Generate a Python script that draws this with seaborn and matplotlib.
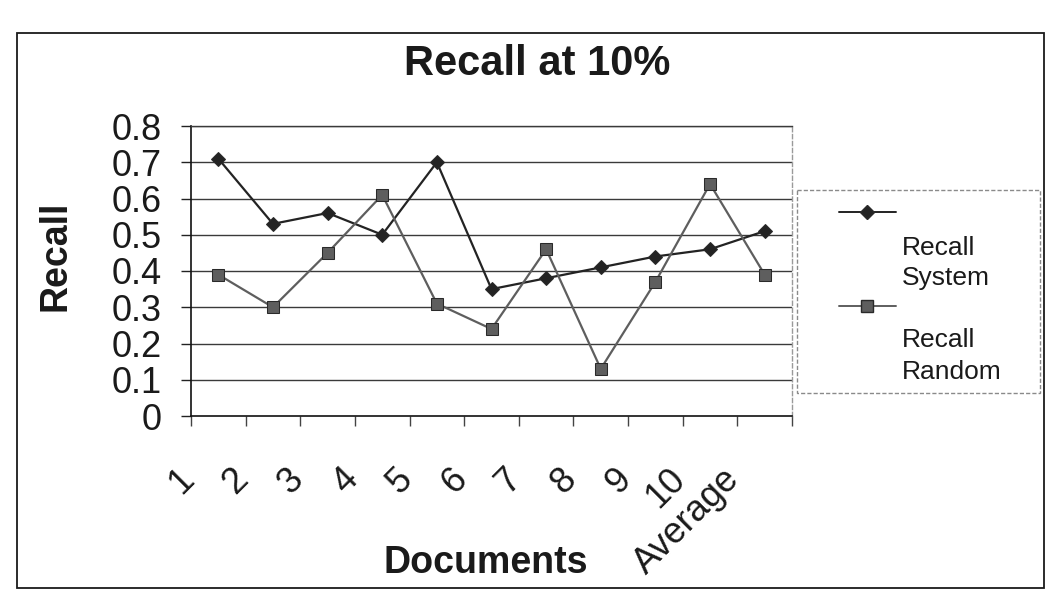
import numpy as np
import pandas as pd
import matplotlib
matplotlib.use("Agg")
import matplotlib.pyplot as plt
from matplotlib.patches import Rectangle
from matplotlib.lines import Line2D
from matplotlib.transforms import ScaledTranslation
import seaborn as sns

# Recall at the 10% cut-off, per document plus the overall average
documents = ["1", "2", "3", "4", "5", "6", "7", "8", "9", "10", "Average"]
recall_system = [0.71, 0.53, 0.56, 0.50, 0.70, 0.35, 0.38, 0.41, 0.44, 0.46, 0.51]
recall_random = [0.39, 0.30, 0.45, 0.61, 0.31, 0.24, 0.46, 0.13, 0.37, 0.64, 0.39]
series_names = ["Recall System", "Recall Random"]
y_ticks = [0, 0.1, 0.2, 0.3, 0.4, 0.5, 0.6, 0.7, 0.8]
y_tick_labels = ["0", "0.1", "0.2", "0.3", "0.4", "0.5", "0.6", "0.7", "0.8"]

pos = np.arange(len(documents))
df = pd.concat([
    pd.DataFrame({"pos": pos, "recall": recall_system, "series": series_names[0]}),
    pd.DataFrame({"pos": pos, "recall": recall_random, "series": series_names[1]}),
], ignore_index=True)

sns.set_theme(style="white")
plt.rcParams["font.family"] = ["Liberation Sans", "DejaVu Sans"]

W, H = 1050, 607
fig = plt.figure(figsize=(W / 100, H / 100), dpi=100)
fig.patch.set_facecolor("white")

# plot area in pixel terms
L, R, T, B = 191, 792, 126, 416
ax = fig.add_axes([L / W, 1 - B / H, (R - L) / W, (B - T) / H])

colors = {series_names[0]: "#232323", series_names[1]: "#5e5e5e"}
markers = {series_names[0]: "D", series_names[1]: "s"}
sizes = {series_names[0]: 7.2, series_names[1]: 9}

for name in series_names:
    sub = df[df["series"] == name]
    sns.lineplot(data=sub, x="pos", y="recall", ax=ax, color=colors[name],
                 marker=markers[name], markersize=sizes[name],
                 markeredgecolor="#2a2a2a", markerfacecolor=colors[name],
                 linewidth=1.6, sort=False, legend=False, zorder=3)

ax.set_xlim(-0.5, len(documents) - 0.5)
ax.set_ylim(0, 0.8)

# horizontal gridlines
for v in y_ticks[1:]:
    ax.axhline(v, color="#3a3a3a", lw=1.0, zorder=1)

# y axis
ax.set_yticks(y_ticks)
ax.set_yticklabels(y_tick_labels, fontsize=26, color="#1a1a1a")
ax.tick_params(axis="y", direction="out", length=7, width=1, color="#222",
               pad=14, left=True)

# x axis: labels at category centres, tick marks at category boundaries
ax.set_xticks(pos)
ax.set_xticklabels(documents, fontsize=26, rotation=45, ha="right",
                   va="center", rotation_mode="anchor", color="#1a1a1a")
ax.tick_params(axis="x", which="major", length=0, pad=42)
ax.set_xticks(np.arange(-0.5, len(documents)), minor=True)
ax.tick_params(axis="x", which="minor", direction="out", length=7, width=1,
               color="#444", bottom=True)
shift = ScaledTranslation(-30 / 100, 0, fig.dpi_scale_trans)
for lab in ax.get_xticklabels():
    lab.set_transform(lab.get_transform() + shift)

for side in ["left", "bottom"]:
    ax.spines[side].set_color("#111")
    ax.spines[side].set_linewidth(1.2)
ax.spines["top"].set_color("#3a3a3a")
ax.spines["top"].set_linewidth(1.0)
ax.spines["right"].set_color("#9a9a9a")
ax.spines["right"].set_linestyle((0, (3, 2)))
ax.spines["right"].set_linewidth(1.0)

ax.set_xlabel("Documents", fontsize=27, fontweight="bold", va="center",
              color="#1a1a1a")
ax.xaxis.set_label_coords((486 - L) / (R - L), (B - 563) / (B - T))
ax.set_ylabel("Recall", fontsize=27, fontweight="bold", va="center",
              color="#1a1a1a")
ax.yaxis.set_label_coords((56 - L) / (R - L), (B - 256) / (B - T))
ax.set_title("Recall at 10%", fontsize=30, fontweight="bold", color="#1a1a1a",
             x=(537 - L) / (R - L), y=(B - 72) / (B - T), va="center")

# legend panel
lx0, ly0, lx1, ly1 = 797, 190, 1040, 393
lax = fig.add_axes([lx0 / W, 1 - ly1 / H, (lx1 - lx0) / W, (ly1 - ly0) / H])
lax.set_xlim(0, lx1 - lx0)
lax.set_ylim(ly1 - ly0, 0)
lax.axis("off")
lax.add_patch(Rectangle((0, 0), lx1 - lx0, ly1 - ly0, fill=False,
                        ec="#8a8a8a", lw=1.0, ls=(0, (3, 1.5)), clip_on=False))
entries = [(series_names[0], 22, 58, 88), (series_names[1], 116, 150, 182)]
for name, hy, t1, t2 in entries:
    lax.add_line(Line2D([42, 99], [hy, hy], color=colors[name], lw=1.4))
    lax.add_line(Line2D([70], [hy], marker=markers[name], ms=sizes[name],
                        color=colors[name], markeredgecolor="#2a2a2a"))
    first, second = name.split(" ")
    lax.text(105, t1, first, fontsize=19, va="center", ha="left", color="#1a1a1a")
    lax.text(105, t2, second, fontsize=19, va="center", ha="left", color="#1a1a1a")

# chart-area border
fig.patches.append(Rectangle((17 / W, 1 - 588 / H), (1044 - 17) / W,
                             (588 - 33) / H, transform=fig.transFigure,
                             fill=False, ec="#1a1a1a", lw=1.3))

fig.savefig("out.png", dpi=100, facecolor="white")
